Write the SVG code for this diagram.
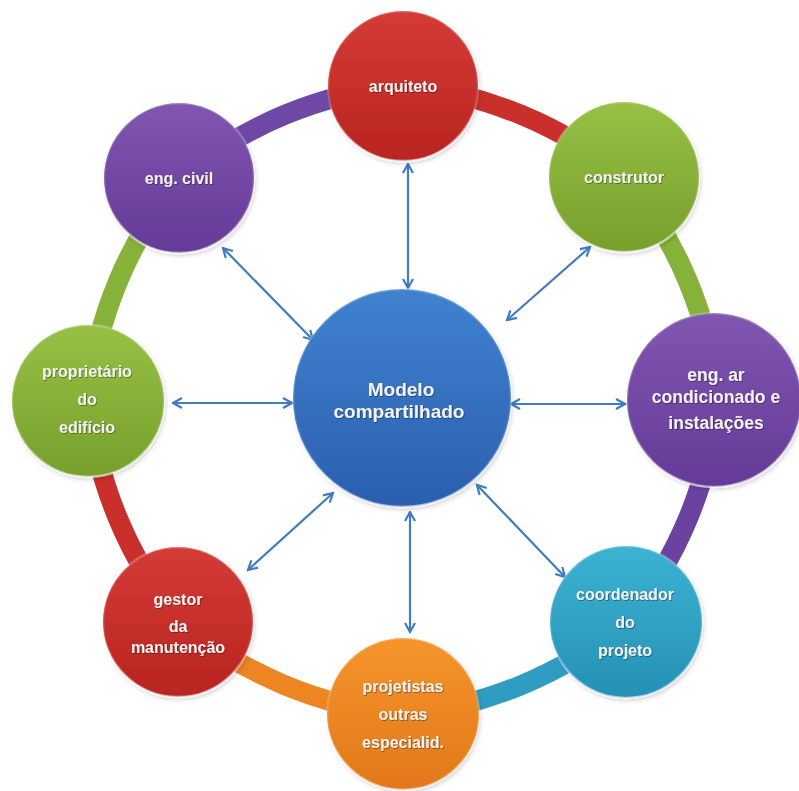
<svg xmlns="http://www.w3.org/2000/svg" width="799" height="791" viewBox="0 0 799 791">
  <defs>
    <style>
      .ring { fill: none; stroke-width: 20; stroke-linecap: butt; }
      .node circle.body { stroke-width: 2.5; }
      .lbl { font-family: "Liberation Sans", Arial, sans-serif; font-weight: bold; font-size: 16px; fill: #f3f1f1; text-anchor: middle; filter: url(#txtShadow); }
      .big { font-size: 17.5px; }
      .center-lbl { font-size: 19px; }
      .link { stroke: #3f7cc0; stroke-width: 2.2; fill: none; marker-start: url(#head); marker-end: url(#head); }
    </style>
    <marker id="head" viewBox="0 0 12 12" refX="10.5" refY="6" markerWidth="12" markerHeight="12" markerUnits="userSpaceOnUse" orient="auto-start-reverse">
      <path d="M1.5,1 L10.5,6 L1.5,11" fill="none" stroke="#3f7cc0" stroke-width="2.2" stroke-linejoin="miter"/>
    </marker>
    <filter id="txtShadow" x="-10%" y="-30%" width="120%" height="160%">
      <feDropShadow dx="0.8" dy="0.8" stdDeviation="0.7" flood-color="#000" flood-opacity="0.45"/>
    </filter>
    <filter id="soft" x="-10%" y="-10%" width="125%" height="125%">
      <feDropShadow dx="1.5" dy="2" stdDeviation="2" flood-color="#000" flood-opacity="0.18"/>
    </filter>
    <linearGradient id="gRed" x1="0" y1="0" x2="0" y2="1">
      <stop offset="0" stop-color="#d43b37"/>
      <stop offset="1" stop-color="#b9241f"/>
    </linearGradient>
    <linearGradient id="gGreen" x1="0" y1="0" x2="0" y2="1">
      <stop offset="0" stop-color="#97c045"/>
      <stop offset="1" stop-color="#76a02b"/>
    </linearGradient>
    <linearGradient id="gPurple" x1="0" y1="0" x2="0" y2="1">
      <stop offset="0" stop-color="#8056b0"/>
      <stop offset="1" stop-color="#643a98"/>
    </linearGradient>
    <linearGradient id="gTeal" x1="0" y1="0" x2="0" y2="1">
      <stop offset="0" stop-color="#3cb3d3"/>
      <stop offset="1" stop-color="#2590b5"/>
    </linearGradient>
    <linearGradient id="gOrange" x1="0" y1="0" x2="0" y2="1">
      <stop offset="0" stop-color="#f5952c"/>
      <stop offset="1" stop-color="#e2771a"/>
    </linearGradient>
    <linearGradient id="gBlue" x1="0" y1="0" x2="0" y2="1">
      <stop offset="0" stop-color="#4182d0"/>
      <stop offset="1" stop-color="#2a5fae"/>
    </linearGradient>
    <linearGradient id="rim" x1="0" y1="0" x2="0" y2="1">
      <stop offset="0" stop-color="#ffffff" stop-opacity="0.25"/>
      <stop offset="0.6" stop-color="#ffffff" stop-opacity="0.15"/>
      <stop offset="1" stop-color="#ffffff" stop-opacity="0.6"/>
    </linearGradient>
  </defs>

  <rect width="799" height="791" fill="#ffffff"/>

  <!-- outer ring: one arc per node, running clockwise to the next node -->
  <g id="ring">
    <path class="ring" stroke="#6f48a6" d="M180.3,177.3 A420,420 0 0 1 403,85"/>
    <path class="ring" stroke="#c9302b" d="M403,85 A420,420 0 0 1 625.7,177.3"/>
    <path class="ring" stroke="#86b23a" d="M625.7,177.3 A420,420 0 0 1 718,400"/>
    <path class="ring" stroke="#6c42a0" d="M718,400 A420,420 0 0 1 625.7,622.7"/>
    <path class="ring" stroke="#2f9cc2" d="M625.7,622.7 A420,420 0 0 1 403,715"/>
    <path class="ring" stroke="#ec8522" d="M403,715 A420,420 0 0 1 180.3,622.7"/>
    <path class="ring" stroke="#c9302b" d="M180.3,622.7 A420,420 0 0 1 88,400"/>
    <path class="ring" stroke="#86b23a" d="M88,400 A420,420 0 0 1 180.3,177.3"/>
  </g>

  <!-- two-way links between the shared model and each participant -->
  <g id="connectors">
    <line class="link" x1="408" y1="288" x2="408" y2="164"/>
    <line class="link" x1="507" y1="320" x2="590" y2="247"/>
    <line class="link" x1="511" y1="404" x2="625" y2="404"/>
    <line class="link" x1="477" y1="485" x2="565" y2="577"/>
    <line class="link" x1="410" y1="512" x2="410" y2="632"/>
    <line class="link" x1="333" y1="493" x2="248" y2="570"/>
    <line class="link" x1="292" y1="403" x2="173" y2="403"/>
    <line class="link" x1="313" y1="340" x2="223" y2="248"/>
  </g>

  <g id="arquiteto" class="node" filter="url(#soft)">
    <circle class="body" cx="403" cy="86" r="75" fill="url(#gRed)" stroke="url(#rim)"/>
    <text class="lbl" x="403" y="92">arquiteto</text>
  </g>

  <g id="construtor" class="node" filter="url(#soft)">
    <circle class="body" cx="624" cy="177" r="75" fill="url(#gGreen)" stroke="url(#rim)"/>
    <text class="lbl" x="624" y="183">construtor</text>
  </g>

  <g id="eng-ar" class="node" filter="url(#soft)">
    <circle class="body" cx="714" cy="400" r="87" fill="url(#gPurple)" stroke="url(#rim)"/>
    <text class="lbl big" x="716" y="381">eng. ar</text>
    <text class="lbl big" x="716" y="403">condicionado e</text>
    <text class="lbl big" x="716" y="429">instalações</text>
  </g>

  <g id="coordenador" class="node" filter="url(#soft)">
    <circle class="body" cx="626" cy="622" r="76" fill="url(#gTeal)" stroke="url(#rim)"/>
    <text class="lbl" x="625" y="600">coordenador</text>
    <text class="lbl" x="625" y="628">do</text>
    <text class="lbl" x="625" y="656">projeto</text>
  </g>

  <g id="projetistas" class="node" filter="url(#soft)">
    <circle class="body" cx="403" cy="714" r="76" fill="url(#gOrange)" stroke="url(#rim)"/>
    <text class="lbl" x="403" y="692">projetistas</text>
    <text class="lbl" x="403" y="720">outras</text>
    <text class="lbl" x="403" y="748">especialid.</text>
  </g>

  <g id="gestor" class="node" filter="url(#soft)">
    <circle class="body" cx="178" cy="622" r="75" fill="url(#gRed)" stroke="url(#rim)"/>
    <text class="lbl" x="178" y="605">gestor</text>
    <text class="lbl" x="178" y="632">da</text>
    <text class="lbl" x="178" y="653">manutenção</text>
  </g>

  <g id="proprietario" class="node" filter="url(#soft)">
    <circle class="body" cx="88" cy="401" r="76" fill="url(#gGreen)" stroke="url(#rim)"/>
    <text class="lbl" x="87" y="377">proprietário</text>
    <text class="lbl" x="87" y="405">do</text>
    <text class="lbl" x="87" y="433">edifício</text>
  </g>

  <g id="eng-civil" class="node" filter="url(#soft)">
    <circle class="body" cx="179" cy="178" r="75" fill="url(#gPurple)" stroke="url(#rim)"/>
    <text class="lbl" x="179" y="184">eng. civil</text>
  </g>

  <g id="modelo" class="node" filter="url(#soft)">
    <circle class="body" cx="402" cy="398" r="109" fill="url(#gBlue)" stroke="url(#rim)"/>
    <text class="lbl center-lbl" x="401" y="396">Modelo</text>
    <text class="lbl center-lbl" x="399" y="418">compartilhado</text>
  </g>
</svg>
